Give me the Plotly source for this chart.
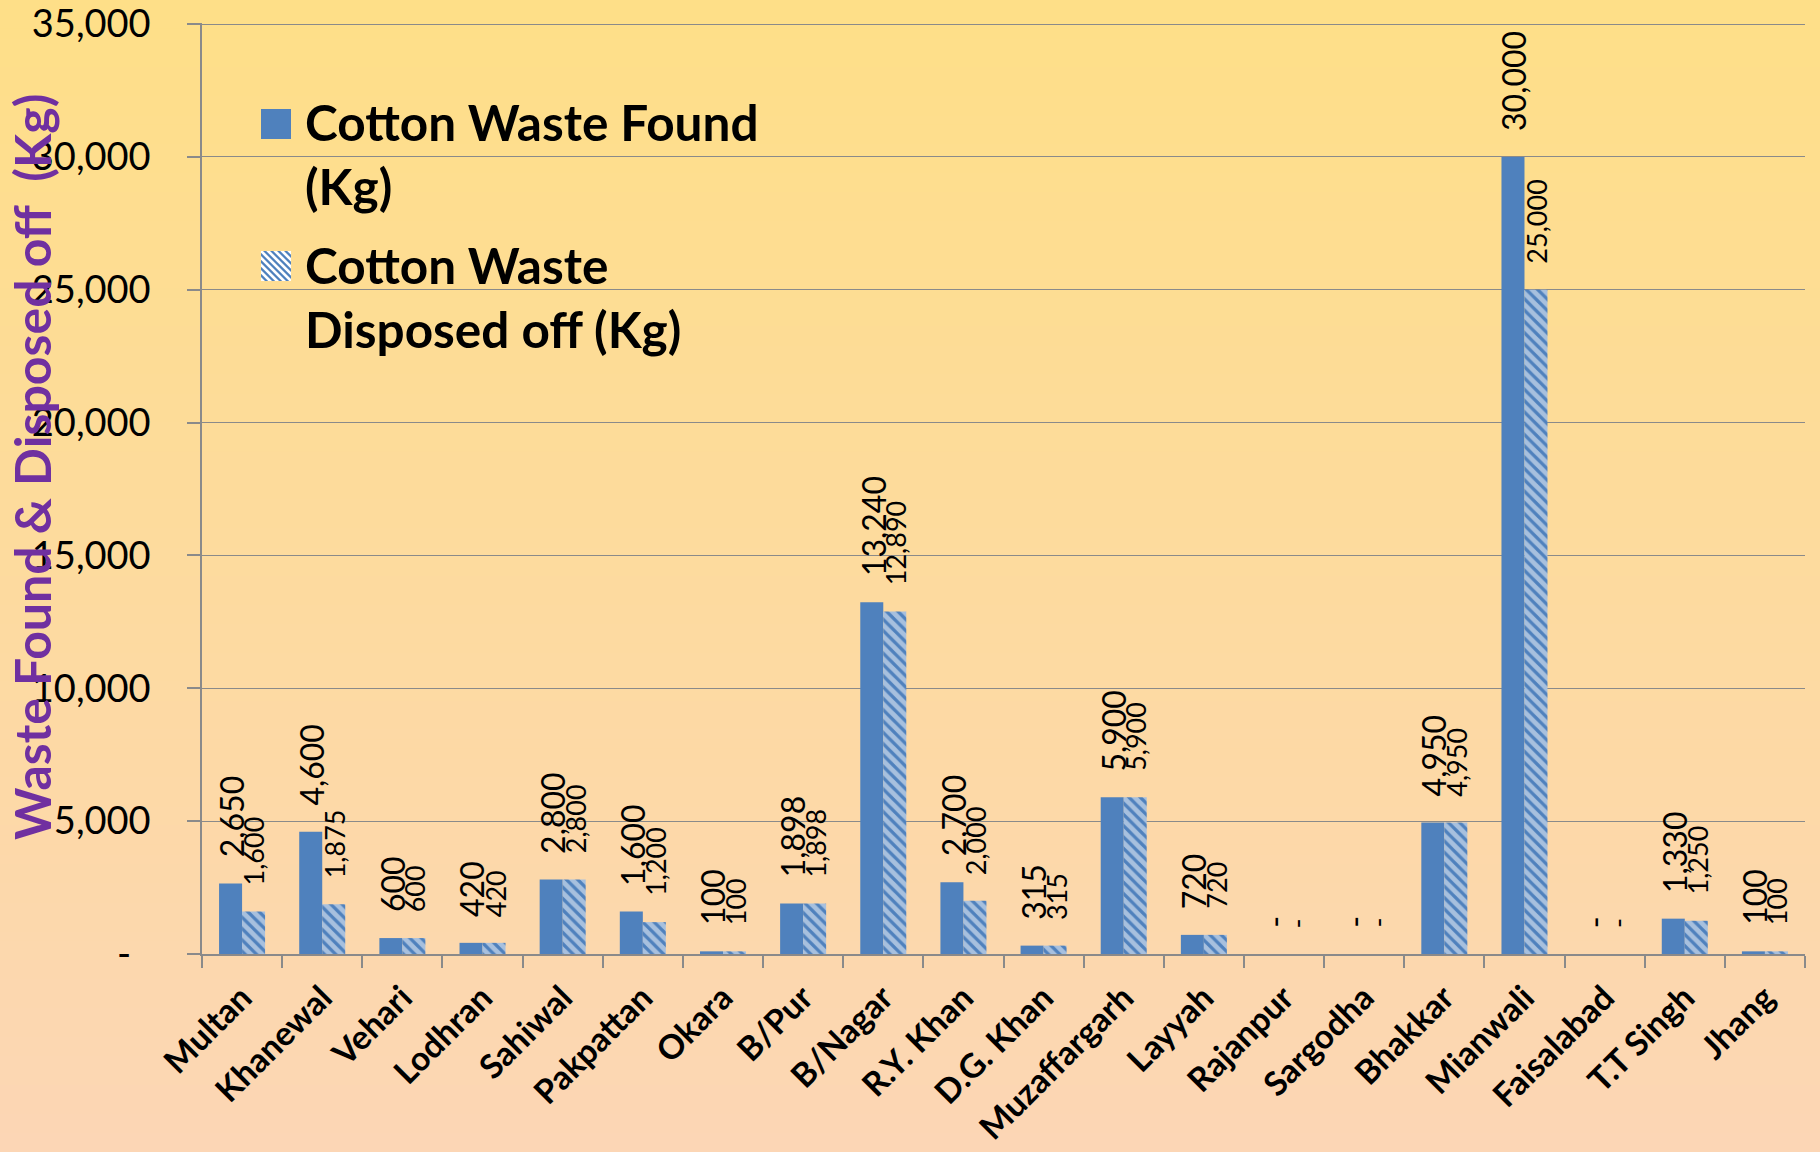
import plotly.graph_objects as go

# ---------------- data ----------------
districts = ["Multan", "Khanewal", "Vehari", "Lodhran", "Sahiwal", "Pakpattan", "Okara",
             "B/Pur", "B/Nagar", "R.Y. Khan", "D.G. Khan", "Muzaffargarh", "Layyah",
             "Rajanpur", "Sargodha", "Bhakkar", "Mianwali", "Faisalabad", "T.T Singh", "Jhang"]
waste_found = [2650, 4600, 600, 420, 2800, 1600, 100, 1898, 13240, 2700, 315, 5900, 720,
               0, 0, 4950, 30000, 0, 1330, 100]
waste_disposed = [1600, 1875, 600, 420, 2800, 1200, 100, 1898, 12890, 2000, 315, 5900, 720,
                  0, 0, 4950, 25000, 0, 1250, 100]
y_ticks = [0, 5000, 10000, 15000, 20000, 25000, 30000, 35000]
y_tick_labels = ["-\u00a0\u00a0", "5,000", "10,000", "15,000", "20,000", "25,000", "30,000", "35,000"]

name_found = "Cotton Waste Found<br>(Kg)"
name_disposed = "Cotton Waste<br>Disposed off (Kg)"
y_title = "Waste Found & Disposed off\u00a0\u00a0(Kg)"

# ---------------- style ----------------
W, H = 1820, 1152
ML, MR, MT, MB = 202, 15, 23, 198
Y_MAX = 35040
BLUE = "#4F81BD"
GRID = "#8A8A8A"
FONT = "Lato"
TOP_RGB = (254, 223, 136)
BOT_RGB = (252, 214, 181)

plot_h = H - MT - MB
plot_w = W - ML - MR


def px_x(x):
    return (x - ML) / plot_w


def px_y(y):
    return (H - MB - y) / plot_h


def fmt(v):
    return "-" if v == 0 else f"{v:,}"


fig = go.Figure()
fig.add_trace(go.Bar(
    x=districts, y=waste_found, name=name_found,
    marker=dict(color=BLUE, line=dict(width=0)),
))
fig.add_trace(go.Bar(
    x=districts, y=waste_disposed, name=name_disposed,
    marker=dict(color=BLUE, line=dict(width=0),
                pattern=dict(shape="\\", bgcolor=BLUE, fgcolor="white",
                             size=8, solidity=0.6)),
))

# ---------------- gradient background ----------------
shapes = []
n = 120
for k in range(n):
    t = k / (n - 1)
    r = round(TOP_RGB[0] + (BOT_RGB[0] - TOP_RGB[0]) * t)
    g = round(TOP_RGB[1] + (BOT_RGB[1] - TOP_RGB[1]) * t)
    b = round(TOP_RGB[2] + (BOT_RGB[2] - TOP_RGB[2]) * t)
    p1 = H * k / n
    p0 = min(H, H * (k + 1.4) / n)
    shapes.append(dict(type="rect", xref="paper", yref="paper",
                       x0=px_x(-5), x1=px_x(W + 5), y0=px_y(p0 if k < n - 1 else H + 5),
                       y1=px_y(p1 if k > 0 else -5),
                       fillcolor=f"rgb({r},{g},{b})", line=dict(width=0), layer="below"))

# ---------------- manual legend (large swatches) ----------------
SW = 30
LEG_X = 261
SW1_Y, SW2_Y = 109, 251


def clip_poly(poly, x0, y0, x1, y1):
    def clip(pts, inside, inter):
        out = []
        for i in range(len(pts)):
            cur, prev = pts[i], pts[i - 1]
            if inside(cur):
                if not inside(prev):
                    out.append(inter(prev, cur))
                out.append(cur)
            elif inside(prev):
                out.append(inter(prev, cur))
        return out

    def ix(xc):
        return lambda a, b: (xc, a[1] + (b[1] - a[1]) * (xc - a[0]) / (b[0] - a[0]))

    def iy(yc):
        return lambda a, b: (a[0] + (b[0] - a[0]) * (yc - a[1]) / (b[1] - a[1]), yc)

    pts = poly
    pts = clip(pts, lambda p: p[0] >= x0, ix(x0)) if pts else pts
    pts = clip(pts, lambda p: p[0] <= x1, ix(x1)) if pts else pts
    pts = clip(pts, lambda p: p[1] >= y0, iy(y0)) if pts else pts
    pts = clip(pts, lambda p: p[1] <= y1, iy(y1)) if pts else pts
    return pts


for sy in (SW1_Y, SW2_Y):
    shapes.append(dict(type="rect", xref="paper", yref="paper",
                       x0=px_x(LEG_X), x1=px_x(LEG_X + SW), y0=px_y(sy + SW), y1=px_y(sy),
                       fillcolor=BLUE, line=dict(width=0), layer="above"))

period, stripe = 7.0, 3.8
c = -SW - period
while c < SW:
    x0, y0 = LEG_X, SW2_Y
    band = [(x0 - SW, y0 - SW + c), (x0 + 2 * SW, y0 + 2 * SW + c),
            (x0 + 2 * SW, y0 + 2 * SW + c + stripe), (x0 - SW, y0 - SW + c + stripe)]
    pts = clip_poly(band, x0, y0, x0 + SW, y0 + SW)
    if len(pts) >= 3:
        path = "M " + " L ".join(f"{px_x(px):.5f},{px_y(py):.5f}" for px, py in pts) + " Z"
        shapes.append(dict(type="path", xref="paper", yref="paper", path=path,
                           fillcolor="white", line=dict(width=0), layer="above"))
    c += period

# ---------------- annotations ----------------
bar_offset = 11.4
annotations = []
for cat, vf, vd in zip(districts, waste_found, waste_disposed):
    annotations.append(dict(x=cat, y=vf, xref="x", yref="y", text=fmt(vf), showarrow=False,
                            textangle=-90, xanchor="center", yanchor="bottom",
                            xshift=-bar_offset + 1, yshift=24,
                            font=dict(family=FONT, size=32, color="black")))
    annotations.append(dict(x=cat, y=vd, xref="x", yref="y", text=fmt(vd), showarrow=False,
                            textangle=-90, xanchor="center", yanchor="bottom",
                            xshift=bar_offset + 1, yshift=24,
                            font=dict(family=FONT, size=27, color="black")))

annotations.append(dict(x=px_x(32), y=px_y(467), xref="paper", yref="paper",
                        text=f"<b>{y_title}</b>", showarrow=False, textangle=-90,
                        xanchor="center", yanchor="middle",
                        font=dict(family=FONT, size=50, color="#7030A0")))

for txt, cy in ((name_found, 154), (name_disposed, 297)):
    annotations.append(dict(x=px_x(303), y=px_y(cy), xref="paper", yref="paper",
                            text=f"<b>{txt}</b>", showarrow=False, align="left",
                            xanchor="left", yanchor="middle",
                            font=dict(family=FONT, size=49.5, color="black")))

fig.update_layout(
    width=W, height=H,
    margin=dict(l=ML, r=MR, t=MT, b=MB, pad=0, autoexpand=False),
    paper_bgcolor="rgb(%d,%d,%d)" % TOP_RGB,
    plot_bgcolor="rgba(0,0,0,0)",
    barmode="group", bargap=0.426, bargroupgap=0,
    font=dict(family=FONT, color="black"),
    showlegend=False,
    shapes=shapes,
    annotations=annotations,
    xaxis=dict(type="category", tickangle=-45, tickson="boundaries", automargin=False,
               ticks="outside", ticklen=12, tickwidth=1.5, tickcolor=GRID,
               showline=True, linecolor=GRID, linewidth=1.5, showgrid=False,
               ticklabelstandoff=9,
               tickfont=dict(family=FONT, size=33.5, color="black", weight="bold")),
    yaxis=dict(range=[0, Y_MAX], tickvals=y_ticks, ticktext=y_tick_labels, automargin=False,
               ticks="outside", ticklen=13, tickwidth=1.5, tickcolor=GRID,
               showline=True, linecolor=GRID, linewidth=1.5,
               showgrid=True, gridcolor=GRID, gridwidth=1.3, zeroline=False,
               ticklabelstandoff=29, ticklabeloverflow="allow",
               tickfont=dict(family=FONT, size=38, color="black")),
)

fig.write_html("out.html", config={"displayModeBar": False},
               post_script="document.body.style.margin='0';")
